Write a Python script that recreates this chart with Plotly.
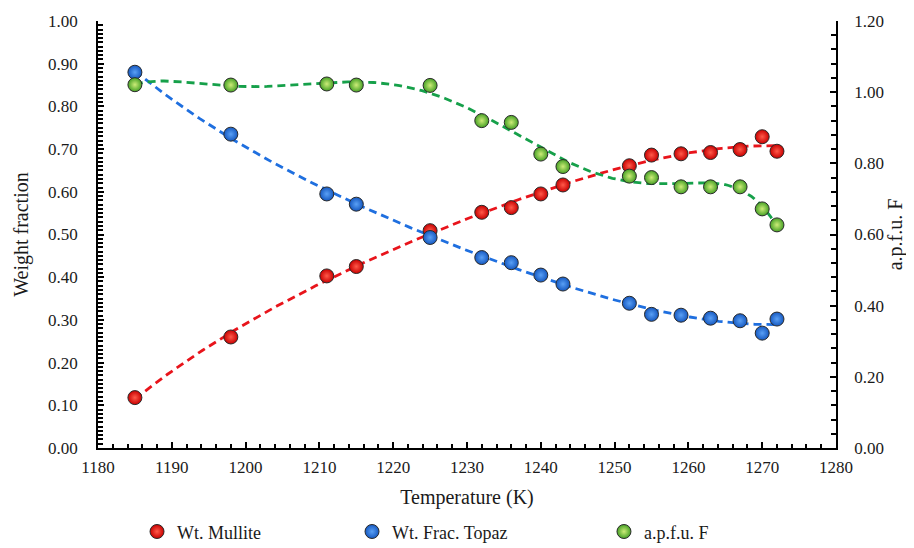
import numpy as np
import plotly.graph_objects as go

temperature = [1185, 1198, 1211, 1215, 1225, 1232, 1236, 1240, 1243, 1252, 1255, 1259, 1263, 1267, 1270, 1272]
wt_mullite = [0.118, 0.260, 0.403, 0.425, 0.509, 0.552, 0.563, 0.595, 0.616, 0.661, 0.686, 0.689, 0.692, 0.699, 0.729, 0.695]
wt_topaz = [0.880, 0.735, 0.595, 0.571, 0.493, 0.446, 0.434, 0.405, 0.384, 0.339, 0.313, 0.311, 0.304, 0.298, 0.269, 0.302]
apfu_f = [1.021, 1.020, 1.023, 1.020, 1.019, 0.920, 0.915, 0.826, 0.791, 0.764, 0.760, 0.734, 0.734, 0.734, 0.672, 0.627]

x_ticks = list(range(1180, 1281, 10))
y1_ticks = [round(0.1 * i, 2) for i in range(11)]
y2_ticks = [round(0.2 * i, 2) for i in range(7)]

FONT = "Liberation Serif"
TXT = "#1a1a1a"


def trend(x, y, deg):
    x = np.asarray(x, float)
    y = np.asarray(y, float)
    xm = x.mean()
    c = np.polyfit(x - xm, y, deg)
    xs = np.linspace(x.min(), x.max(), 200)
    return xs, np.polyval(c, xs - xm)


series = [
    ("Wt. Mullite", wt_mullite, "y", "#e8141b", "#c80000", "#ff5a4a", 4, "legend"),
    ("Wt. Frac. Topaz", wt_topaz, "y", "#1f6fdf", "#1558c0", "#5aa0f5", 4, "legend2"),
    ("a.p.f.u. F", apfu_f, "y2", "#16a04a", "#45a025", "#cdec78", 6, "legend3"),
]

fig = go.Figure()
for name, vals, yax, lc, mc, gc, deg, lg in series:
    xs, ys = trend(temperature, vals, deg)
    fig.add_trace(go.Scatter(
        x=xs, y=ys, mode="lines", yaxis=yax, showlegend=False, hoverinfo="skip",
        line=dict(color=lc, width=2.8, dash="8px,5px"),
    ))
for name, vals, yax, lc, mc, gc, deg, lg in series:
    fig.add_trace(go.Scatter(
        x=temperature, y=vals, mode="markers", yaxis=yax, name=name, legend=lg,
        marker=dict(size=14, color=mc, line=dict(color="#2a2a2a", width=1),
                    gradient=dict(type="radial", color=gc)),
    ))

axis_common = dict(
    showline=True, linecolor="black", linewidth=1.5, showgrid=False, zeroline=False,
    ticks="inside", ticklen=6, tickwidth=1.5, tickcolor="black", automargin=False,
    tickfont=dict(family=FONT, size=17, color=TXT),
)


def legend_at(xfrac):
    return dict(
        orientation="h", xref="container", yref="container",
        x=xfrac, y=0.03, xanchor="left", yanchor="middle",
        font=dict(family=FONT, size=18, color=TXT),
        itemwidth=30, bgcolor="rgba(0,0,0,0)",
    )


# page body adds an 8px offset, so the figure is drawn 8px smaller
fig.update_layout(
    width=906, height=540,
    margin=dict(l=90, r=78, t=13, b=100),
    paper_bgcolor="white", plot_bgcolor="white",
    font=dict(family=FONT, color=TXT),
    xaxis=dict(
        range=[1180, 1280], tickvals=x_ticks, ticktext=[str(v) for v in x_ticks],
        title=dict(text="Temperature (K)", font=dict(family=FONT, size=20, color=TXT), standoff=14),
        minor=dict(dtick=2, ticks="inside", ticklen=4, tickwidth=1.5, tickcolor="black"),
        ticklabelstandoff=3,
        **axis_common,
    ),
    yaxis=dict(
        range=[0, 1.0], tickvals=y1_ticks, ticktext=[f"{v:.2f}" for v in y1_ticks],
        title=dict(text="Weight fraction", font=dict(family=FONT, size=20, color=TXT), standoff=14),
        minor=dict(dtick=0.01, ticks="inside", ticklen=5, tickwidth=1.5, tickcolor="black"),
        ticklabelstandoff=15,
        **axis_common,
    ),
    yaxis2=dict(
        range=[0, 1.2], tickvals=y2_ticks, ticktext=[f"{v:.2f}" for v in y2_ticks],
        overlaying="y", side="right",
        title=dict(text="a.p.f.u. F", font=dict(family=FONT, size=20, color=TXT), standoff=5),
        minor=dict(dtick=0.04, ticks="inside", ticklen=5, tickwidth=1.5, tickcolor="black"),
        ticklabelstandoff=13,
        **axis_common,
    ),
    legend=legend_at(0.1424),
    legend2=legend_at(0.3797),
    legend3=legend_at(0.6578),
)

fig.write_html("out.html")
